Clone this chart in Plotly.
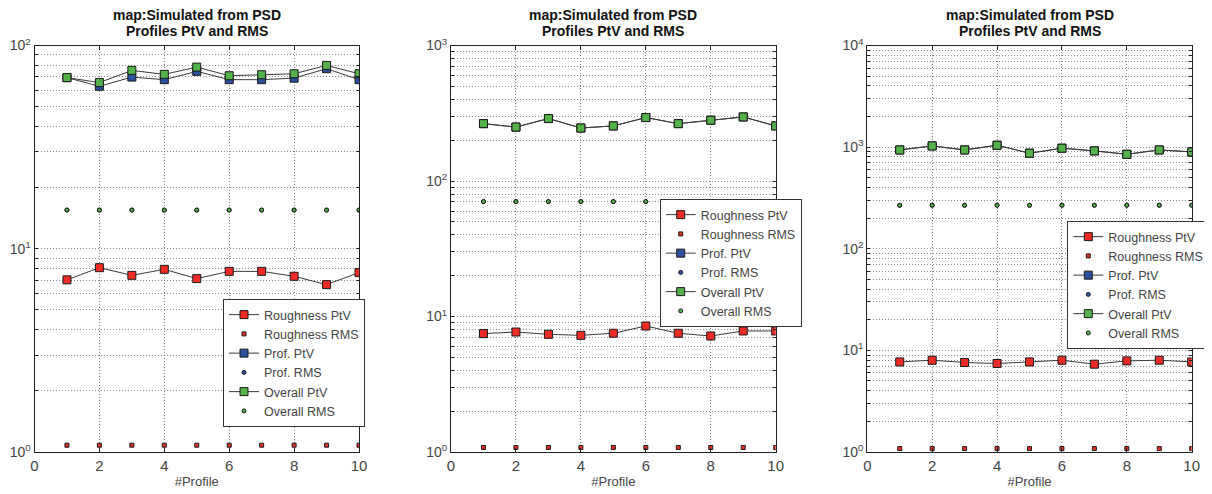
import plotly.graph_objects as go
from plotly.subplots import make_subplots

profiles = [1, 2, 3, 4, 5, 6, 7, 8, 9, 10]

# Panel 1
p1_rough_ptv = [7.03, 8.07, 7.40, 7.92, 7.13, 7.74, 7.74, 7.32, 6.66, 7.63]
p1_rough_rms = [1.08] * 10
p1_prof_ptv = [69.5, 63.0, 69.9, 67.9, 74.6, 67.9, 67.9, 69.1, 76.9, 67.9]
p1_prof_rms = [15.5] * 10
p1_over_ptv = [69.5, 65.7, 75.4, 72.1, 78.3, 71.0, 71.8, 72.6, 79.8, 72.6]
p1_over_rms = [15.5] * 10

# Panel 2
p2_rough_ptv = [7.48, 7.68, 7.39, 7.26, 7.52, 8.51, 7.52, 7.18, 7.82, 7.82]
p2_rough_rms = [1.08] * 10
p2_prof_ptv = [265, 250, 289, 246, 255, 294, 265, 281, 297, 255]
p2_prof_rms = [70.5] * 10
p2_over_ptv = [265, 250, 289, 246, 255, 294, 265, 281, 297, 255]
p2_over_rms = [70.5] * 10

# Panel 3
p3_rough_ptv = [7.70, 8.00, 7.60, 7.43, 7.70, 8.00, 7.31, 7.88, 8.00, 7.70]
p3_rough_rms = [1.08] * 10
p3_prof_ptv = [938, 1028, 938, 1044, 871, 976, 918, 851, 938, 897]
p3_prof_rms = [268] * 10
p3_over_ptv = [938, 1028, 938, 1044, 871, 976, 918, 851, 938, 897]
p3_over_rms = [268] * 10

x_ticks = [0, 2, 4, 6, 8, 10]
decade_ranges = [(0, 2), (0, 3), (0, 4)]
title_line1 = "map:Simulated from PSD"
title_line2 = "Profiles PtV and RMS"
x_title = "#Profile"
names = ["Roughness PtV", "Roughness RMS", "Prof. PtV", "Prof. RMS", "Overall PtV", "Overall RMS"]

panels = [
    (p1_rough_ptv, p1_rough_rms, p1_prof_ptv, p1_prof_rms, p1_over_ptv, p1_over_rms),
    (p2_rough_ptv, p2_rough_rms, p2_prof_ptv, p2_prof_rms, p2_over_ptv, p2_over_rms),
    (p3_rough_ptv, p3_rough_rms, p3_prof_ptv, p3_prof_rms, p3_over_ptv, p3_over_rms),
]

RED = "#ee2b24"
BLUE = "#2c4f9f"
GREEN = "#53b249"
LINE = "#3a3a3a"
EDGE = "#1a1a1a"
GRID = "#8a8a8a"
FONT = "Liberation Sans, Arial, Helvetica, sans-serif"

# page has an 8px body margin; figure sized to end at the window edge
OFF = 8
W, H = 1212 - OFF, 494 - OFF
x_dom_px = [(34.5, 359), (451, 775.7), (867.3, 1191.7)]
y_dom_px = (45.5, 452)
legend_pos_px = [(223, 299), (659.7, 199), (1067.3, 221)]


def fx(px):
    return (px - OFF) / W


def fy(py):
    return 1 - (py - OFF) / H


fig = make_subplots(rows=1, cols=3)

for i, data in enumerate(panels):
    r_ptv, r_rms, pr_ptv, pr_rms, o_ptv, o_rms = data
    leg = "legend" if i == 0 else f"legend{i+1}"
    specs = [
        (r_ptv, names[0], RED, "square", 8, "lines+markers"),
        (r_rms, names[1], RED, "square", 4, "markers"),
        (pr_ptv, names[2], BLUE, "square", 8, "lines+markers"),
        (pr_rms, names[3], BLUE, "circle", 4, "markers"),
        (o_ptv, names[4], GREEN, "square", 8, "lines+markers"),
        (o_rms, names[5], GREEN, "circle", 4, "markers"),
    ]
    for vals, name, col, sym, size, mode in specs:
        fig.add_trace(
            go.Scatter(
                x=profiles, y=vals, name=name, mode=mode,
                line=dict(color=LINE, width=1),
                marker=dict(symbol=sym, size=size, color=col,
                            line=dict(color=EDGE, width=1)),
                legend=leg, showlegend=True,
            ),
            row=1, col=i + 1,
        )

    lo, hi = decade_ranges[i]
    tickvals, ticktext = [], []
    for d in range(lo, hi + 1):
        for m in range(1, 10):
            if d == hi and m > 1:
                break
            tickvals.append(m * 10 ** d)
            ticktext.append(f"10<sup>{d}</sup>" if m == 1 else "")

    xa = "xaxis" if i == 0 else f"xaxis{i+1}"
    ya = "yaxis" if i == 0 else f"yaxis{i+1}"
    x0, x1 = x_dom_px[i]
    fig.layout[xa].update(
        domain=[fx(x0), fx(x1)], range=[0, 10],
        tickvals=x_ticks, ticktext=[str(v) for v in x_ticks],
        showgrid=True, gridcolor=GRID, griddash="1px,2px", gridwidth=1,
        zeroline=False, showline=True, linecolor="#222", linewidth=1,
        mirror="ticks", ticks="inside", ticklen=4, tickcolor="#222",
        tickfont=dict(family=FONT, size=15, color="#444"),
        title=dict(text=x_title, font=dict(family=FONT, size=13, color="#444"), standoff=3),
    )
    fig.layout[ya].update(
        domain=[fy(y_dom_px[1]), fy(y_dom_px[0])],
        type="log", range=[lo, hi],
        tickvals=tickvals, ticktext=ticktext,
        showgrid=True, gridcolor=GRID, griddash="1px,2px", gridwidth=1,
        zeroline=False, showline=True, linecolor="#222", linewidth=1,
        mirror="ticks", ticks="inside", ticklen=3, tickcolor="#222",
        tickfont=dict(family=FONT, size=14, color="#444"),
    )

    cx = fx((x0 + x1) / 2)
    fig.add_annotation(text=f"<b>{title_line1}</b>", x=cx, y=fy(15.5), xref="paper", yref="paper",
                       showarrow=False, xanchor="center", yanchor="middle",
                       font=dict(family=FONT, size=14, color="#111"))
    fig.add_annotation(text=f"<b>{title_line2}</b>", x=cx, y=fy(31), xref="paper", yref="paper",
                       showarrow=False, xanchor="center", yanchor="middle",
                       font=dict(family=FONT, size=14, color="#111"))

    lx, ly = legend_pos_px[i]
    fig.layout[leg] = dict(
        x=fx(lx), y=fy(ly), xanchor="left", yanchor="top",
        xref="paper", yref="paper",
        bgcolor="white", bordercolor="#333", borderwidth=1,
        font=dict(family=FONT, size=12.5, color="#444"),
        tracegroupgap=0, itemsizing="trace",
    )

fig.update_layout(
    width=W, height=H,
    margin=dict(l=0, r=0, t=0, b=0, autoexpand=False),
    paper_bgcolor="white", plot_bgcolor="white",
    showlegend=True,
)

fig.write_html("out.html")
